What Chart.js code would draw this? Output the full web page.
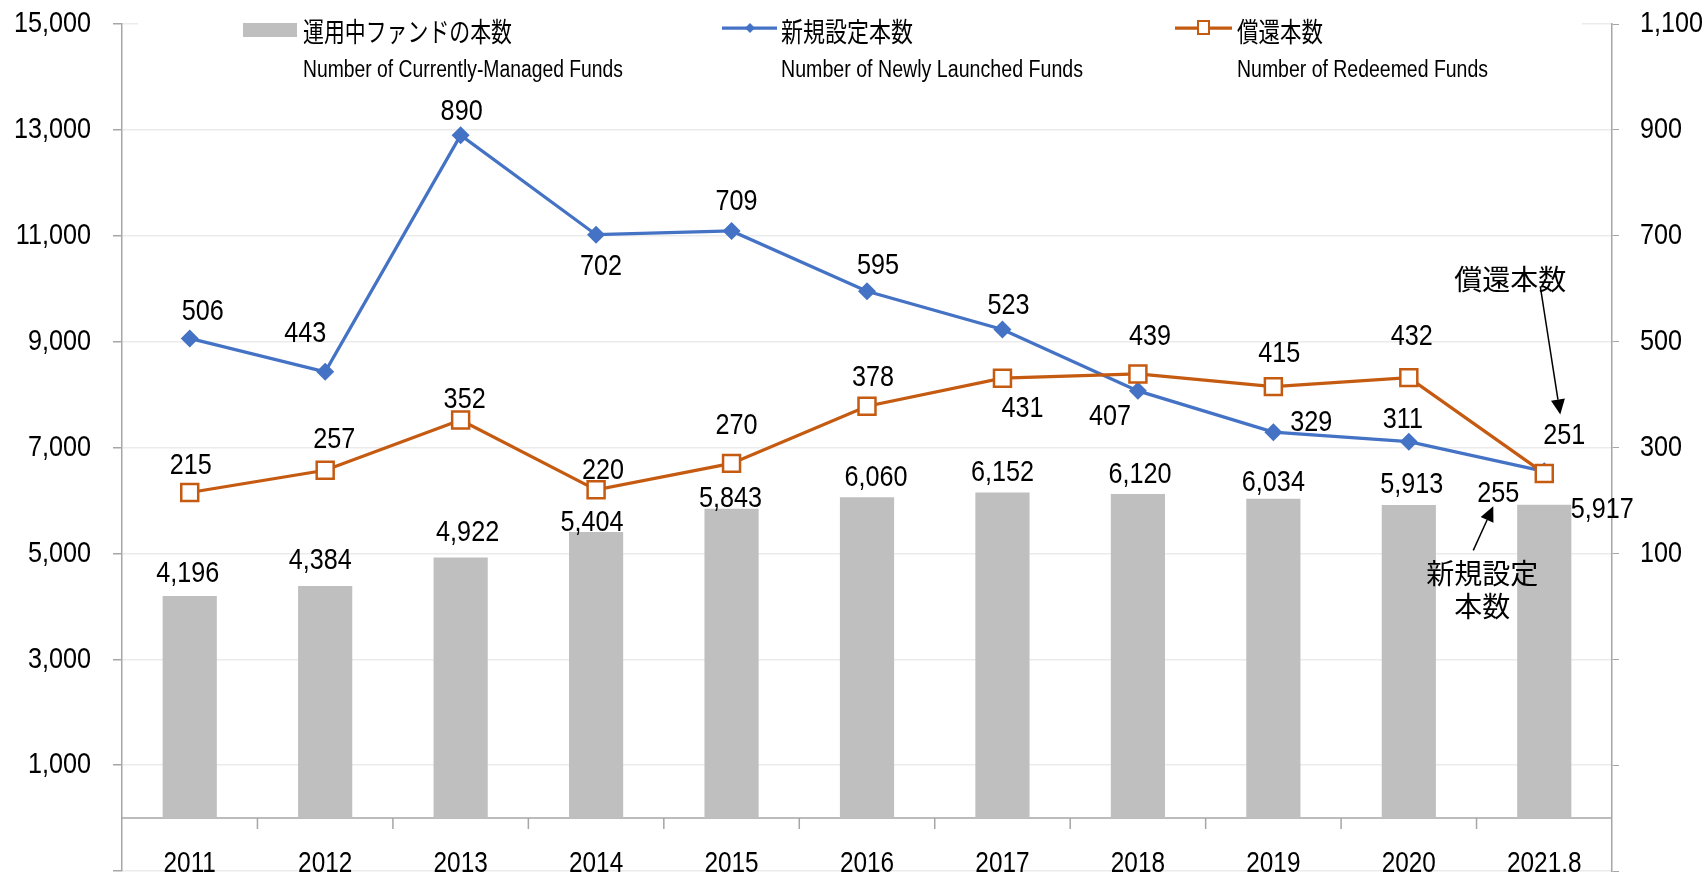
<!DOCTYPE html>
<html>
<head>
<meta charset="utf-8">
<script src="https://cdn.jsdelivr.net/npm/chart.js@4.4.0/dist/chart.umd.min.js"></script>
<style>
  body { margin: 0; background: #ffffff; }
  #wrap { width: 1706px; height: 875px; }
</style>
</head>
<body>
<div id="wrap"><canvas id="fundChart"></canvas></div>
<script>
"use strict";

// data
const categories = ['2011', '2012', '2013', '2014', '2015', '2016', '2017', '2018', '2019', '2020', '2021.8'];
const managedFunds = [4196, 4384, 4922, 5404, 5843, 6060, 6152, 6120, 6034, 5913, 5917];
const newFunds = [506, 443, 890, 702, 709, 595, 523, 407, 329, 311, 255];
const redeemedFunds = [215, 257, 352, 220, 270, 378, 431, 439, 415, 432, 251];

// axis ranges [min, max, step] (left: fund count, right: launched / redeemed)
const leftAxis = [-1000, 15000, 2000];
const rightAxis = [-500, 1100, 200];

// legend texts
const seriesNamesJa = ['運用中ファンドの本数', '新規設定本数', '償還本数'];
const seriesNamesEn = ['Number of Currently-Managed Funds', 'Number of Newly Launched Funds', 'Number of Redeemed Funds'];

// manual data label nudges [dx, dy] from the mark, like the hand-placed excel labels
const barLabelOffsets = [[-2, -22], [-5, -25], [7, -25], [-4, -9], [-1, -10], [9, -20], [0, -20], [2, -19], [0, -16], [3, -20], [58, 5]];
const newLabelOffsets = [[13, -27], [-20, -38], [1, -23], [5, 32], [5, -29], [11, -26], [6, -24], [-28, 26], [38, -9], [-6, -22], [-46, 22]];
const redeemedLabelOffsets = [[1, -27], [9, -31], [4, -20], [7, -19], [5, -38], [6, -28], [20, 31], [12, -37], [6, -33], [3, -41], [20, -38]];

const NUM_FONT = '"Liberation Sans", Arial, sans-serif';
const JP_FONT = '"Noto Sans CJK JP", sans-serif';
const BLUE = '#4472c4';
const ORANGE = '#c55a11';
const GREY_BAR = '#bfbfbf';
const AXIS_GREY = '#a6a6a6';
const SQUEEZE = 0.84; // the original font is taller and narrower

const fmt = v => v.toLocaleString('en-US');

// draw text squeezed horizontally
function narrowText(ctx, text, x, y) {
    const w = ctx.measureText(text).width;
    ctx.fillText(text, x, y, w * SQUEEZE);
}

function drawArrow(ctx, x1, y1, x2, y2) {
    const ang = Math.atan2(y2 - y1, x2 - x1);
    const len = 15, half = 7;
    const bx = x2 - Math.cos(ang) * len;
    const by = y2 - Math.sin(ang) * len;
    ctx.beginPath();
    ctx.moveTo(x1, y1);
    ctx.lineTo(bx, by);
    ctx.stroke();
    ctx.beginPath();
    ctx.moveTo(x2, y2);
    ctx.lineTo(bx + Math.sin(ang) * half, by - Math.cos(ang) * half);
    ctx.lineTo(bx - Math.sin(ang) * half, by + Math.cos(ang) * half);
    ctx.closePath();
    ctx.fill();
}

const overlayPlugin = {
    id: 'overlay',
    beforeDatasetsDraw(chart) {
        const {ctx, chartArea, scales} = chart;
        const y0 = scales.y.getPixelForValue(0);
        ctx.save();
        ctx.strokeStyle = AXIS_GREY;
        ctx.lineWidth = 1.5;
        ctx.beginPath();
        ctx.moveTo(chartArea.left, y0);
        ctx.lineTo(chartArea.right, y0);
        // tick marks between categories
        for (let i = 1; i < categories.length; i++) {
            const x = (scales.x.getPixelForValue(i - 1) + scales.x.getPixelForValue(i)) / 2;
            ctx.moveTo(x, y0);
            ctx.lineTo(x, y0 + 11);
        }
        ctx.stroke();
        ctx.restore();
    },
    afterDraw(chart) {
        const {ctx, chartArea, scales} = chart;
        const y0 = scales.y.getPixelForValue(0);
        ctx.save();
        ctx.fillStyle = '#000';
        ctx.textBaseline = 'middle';
        ctx.font = '30px ' + NUM_FONT;

        // axis tick labels (only the positive ones are labelled)
        ctx.textAlign = 'right';
        scales.y.ticks.forEach(t => {
            if (t.value > 0) narrowText(ctx, fmt(t.value), chartArea.left - 31, scales.y.getPixelForValue(t.value));
        });
        ctx.textAlign = 'left';
        scales.y1.ticks.forEach(t => {
            if (t.value > 0) narrowText(ctx, fmt(t.value), chartArea.right + 28, scales.y1.getPixelForValue(t.value));
        });

        // category labels under the zero line
        ctx.textAlign = 'center';
        ctx.font = '29px ' + NUM_FONT;
        categories.forEach((c, i) => {
            narrowText(ctx, c, scales.x.getPixelForValue(i), y0 + 46);
        });

        // data labels
        ctx.font = '30px ' + NUM_FONT;
        const sets = [
            [0, managedFunds, barLabelOffsets],
            [1, newFunds, newLabelOffsets],
            [2, redeemedFunds, redeemedLabelOffsets]
        ];
        sets.forEach(([di, values, offs]) => {
            const meta = chart.getDatasetMeta(di);
            meta.data.forEach((el, i) => {
                narrowText(ctx, fmt(values[i]), el.x + offs[i][0], el.y + offs[i][1]);
            });
        });

        // legend
        ctx.fillStyle = '#fff';
        ctx.fillRect(chartArea.left + 16, chartArea.top - 3, 1444, 6);
        ctx.textAlign = 'left';
        ctx.fillStyle = GREY_BAR;
        ctx.fillRect(243, 23, 54, 14);
        ctx.lineWidth = 3.25;
        ctx.strokeStyle = BLUE;
        ctx.beginPath(); ctx.moveTo(722, 28); ctx.lineTo(777, 28); ctx.stroke();
        ctx.fillStyle = BLUE;
        ctx.beginPath();
        ctx.moveTo(750, 23); ctx.lineTo(755, 28); ctx.lineTo(750, 33); ctx.lineTo(745, 28);
        ctx.closePath(); ctx.fill();
        ctx.strokeStyle = ORANGE;
        ctx.beginPath(); ctx.moveTo(1175, 28); ctx.lineTo(1232, 28); ctx.stroke();
        ctx.fillStyle = '#fff';
        ctx.lineWidth = 2;
        ctx.fillRect(1198, 21, 11, 13);
        ctx.strokeRect(1198, 21, 11, 13);

        const legendX = [303, 781, 1237];
        const jaWidths = [209, 132, 86];
        const enWidths = [320, 302, 251];
        ctx.fillStyle = '#000';
        seriesNamesJa.forEach((t, i) => {
            ctx.font = '27px ' + JP_FONT;
            ctx.textBaseline = 'middle';
            ctx.fillText(t, legendX[i], 32, jaWidths[i]);
            ctx.font = '23px ' + NUM_FONT;
            ctx.textBaseline = 'alphabetic';
            ctx.fillText(seriesNamesEn[i], legendX[i], 77, enWidths[i]);
        });

        // callouts pointing at the last points
        const lastNew = chart.getDatasetMeta(1).data[categories.length - 1];
        const lastRed = chart.getDatasetMeta(2).data[categories.length - 1];
        ctx.strokeStyle = '#000';
        ctx.fillStyle = '#000';
        ctx.lineWidth = 1.5;
        drawArrow(ctx, lastRed.x - 4, lastRed.y - 187, lastRed.x + 16, lastRed.y - 59);
        drawArrow(ctx, lastNew.x - 71, lastNew.y + 79, lastNew.x - 51, lastNew.y + 35);
        ctx.font = '28px ' + JP_FONT;
        ctx.textAlign = 'center';
        ctx.textBaseline = 'middle';
        ctx.fillText('償還本数', lastRed.x - 34, lastRed.y - 194);
        ctx.fillText('新規設定', lastNew.x - 62, lastNew.y + 102);
        ctx.fillText('本数', lastNew.x - 62, lastNew.y + 135);
        ctx.restore();
    }
};

const ctx = document.getElementById('fundChart').getContext('2d');

new Chart(ctx, {
    type: 'bar',
    data: {
        labels: categories,
        datasets: [
            {
                type: 'bar',
                label: seriesNamesJa[0],
                data: managedFunds,
                backgroundColor: GREY_BAR,
                yAxisID: 'y',
                barPercentage: 0.4,
                categoryPercentage: 1,
                order: 2
            },
            {
                type: 'line',
                label: seriesNamesJa[1],
                data: newFunds,
                borderColor: BLUE,
                backgroundColor: BLUE,
                borderWidth: 3.25,
                pointStyle: 'rectRot',
                pointRadius: 9,
                pointBorderWidth: 0,
                yAxisID: 'y1',
                tension: 0,
                order: 1
            },
            {
                type: 'line',
                label: seriesNamesJa[2],
                data: redeemedFunds,
                borderColor: ORANGE,
                backgroundColor: '#ffffff',
                borderWidth: 3.25,
                pointStyle: 'rect',
                pointRadius: 12,
                pointBorderWidth: 2.5,
                pointBorderColor: ORANGE,
                pointBackgroundColor: '#ffffff',
                yAxisID: 'y1',
                tension: 0,
                order: 0
            }
        ]
    },
    options: {
        responsive: true,
        maintainAspectRatio: false,
        animation: false,
        layout: {
            autoPadding: false,
            padding: {top: 24, bottom: 4, left: 0, right: 0}
        },
        plugins: {
            legend: {display: false},
            tooltip: {enabled: false}
        },
        scales: {
            x: {
                display: false
            },
            y: {
                position: 'left',
                min: leftAxis[0],
                max: leftAxis[1],
                ticks: {
                    stepSize: leftAxis[2],
                    display: false
                },
                grid: {
                    color: '#ebebeb',
                    lineWidth: 1.5,
                    tickColor: AXIS_GREY,
                    tickLength: 9
                },
                border: {display: true, color: AXIS_GREY, width: 1.5},
                afterFit: scale => {
                    scale.width = 122;
                    scale.paddingTop = 0;
                    scale.paddingBottom = 0;
                }
            },
            y1: {
                position: 'right',
                min: rightAxis[0],
                max: rightAxis[1],
                ticks: {
                    stepSize: rightAxis[2],
                    display: false
                },
                grid: {
                    drawOnChartArea: false,
                    color: AXIS_GREY,
                    tickLength: 7
                },
                border: {display: true, color: AXIS_GREY, width: 1.5},
                afterFit: scale => {
                    scale.width = 94;
                    scale.paddingTop = 0;
                    scale.paddingBottom = 0;
                }
            }
        }
    },
    plugins: [overlayPlugin]
});
</script>
</body>
</html>
